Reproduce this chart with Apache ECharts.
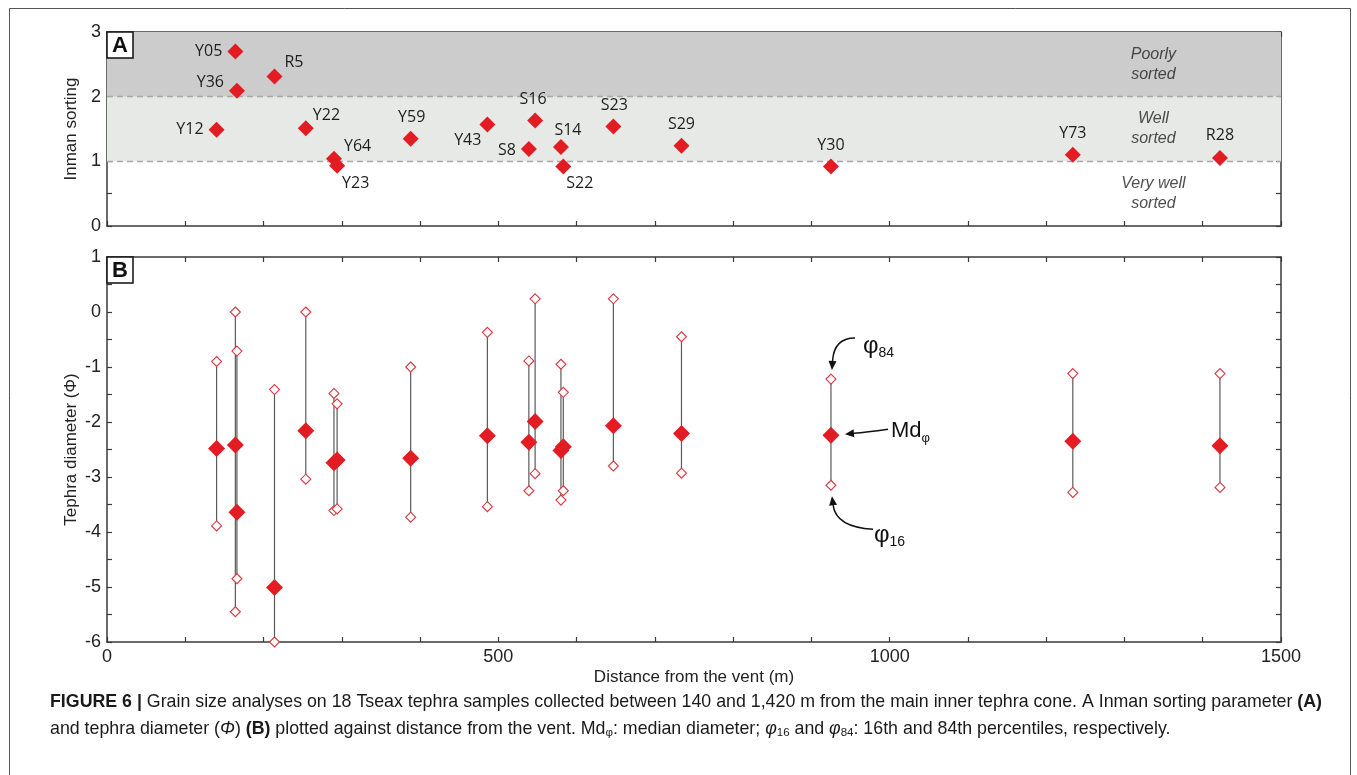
<!DOCTYPE html>
<html><head><meta charset="utf-8">
<script src="https://cdn.jsdelivr.net/npm/echarts@6/dist/echarts.min.js"></script>
<style>html,body{margin:0;padding:0;background:#fff}#c{width:1357px;height:775px}</style>
</head><body><div id="c"></div>
<script>
// ---------------- data ----------------
const samples      = ['Y12','Y05','Y36','R5','Y22','Y64','Y23','Y59','Y43','S8','S16','S14','S22','S23','S29','Y30','Y73','R28'];
const distance     = [140,164,166,214,254,290,294,388,486,539,547,580,583,647,734,925,1234,1422];
const inmanSorting = [1.49,2.70,2.09,2.31,1.51,1.04,0.93,1.35,1.57,1.19,1.63,1.22,0.92,1.54,1.24,0.92,1.10,1.05];
const mdPhi        = [-2.48,-2.42,-3.64,-5.01,-2.16,-2.74,-2.69,-2.66,-2.25,-2.37,-1.99,-2.52,-2.45,-2.07,-2.21,-2.24,-2.35,-2.43];
const phi84        = [-0.90,0.00,-0.71,-1.41,0.00,-1.48,-1.67,-1.00,-0.37,-0.89,0.24,-0.95,-1.46,0.24,-0.45,-1.22,-1.12,-1.12];
const phi16        = [-3.89,-5.45,-4.85,-6.00,-3.04,-3.61,-3.58,-3.73,-3.54,-3.25,-2.94,-3.42,-3.25,-2.80,-2.93,-3.15,-3.28,-3.19];
const sortingClassEdges = [0,1,2,3];
const sortingClassNames = ['Very well\nsorted','Well\nsorted','Poorly\nsorted'];
const sortingClassLabelX = 1337;
const xTickLabels = [0,500,1000,1500];
const yTickLabelsA = [0,1,2,3];
const yTickLabelsB = [-6,-5,-4,-3,-2,-1,0,1];
const annotatedSample = 'Y30';

// ---------------- styles (label placement per sample) ----------------
const labelPlace = {
  Y05:{position:'left',offset:[0,0]}, R5:{position:'right',offset:[-3,-14]},
  Y36:{position:'left',offset:[0,-8]}, Y12:{position:'left',offset:[0,0]},
  Y22:{position:'right',offset:[-6,-13]}, Y64:{position:'right',offset:[-3,-12]},
  Y23:{position:'right',offset:[-8,18]}, Y59:{position:'top',offset:[1,0]},
  Y43:{position:'left',offset:[7,16]}, S8:{position:'left',offset:[0,1]},
  S16:{position:'top',offset:[-2,0]}, S14:{position:'top',offset:[7,4]},
  S22:{position:'right',offset:[-10,17]}, S23:{position:'top',offset:[1,0]},
  S29:{position:'top',offset:[0,0]}, Y30:{position:'top',offset:[0,0]},
  Y73:{position:'top',offset:[0,0]}, R28:{position:'top',offset:[0,-2]}
};
const RED = '#e31b23';
const AX = '#3a3a3a';
const TICKFONT = {fontSize:18, color:'#222', fontFamily:'Liberation Sans, Arial, sans-serif'};
const NAMEFONT = {fontSize:17, color:'#222', fontFamily:'Liberation Sans, Arial, sans-serif'};

function xAx(grid, pos, showLabels, name){
  return {type:'value', gridIndex:grid, position:pos, min:0, max:1500, interval:100,
    axisLine:{show:true, onZero:false, lineStyle:{color:AX, width:1.5}},
    axisTick:{show:true, inside:true, length:5, lineStyle:{color:AX, width:1.2}},
    axisLabel:Object.assign({show:showLabels, margin:6, showMinLabel:true, showMaxLabel:true,
      formatter:v=> xTickLabels.includes(v) ? String(v) : ''}, TICKFONT),
    splitLine:{show:false},
    name:name||'', nameLocation:'middle', nameGap:27, nameMoveOverlap:false, nameTextStyle:NAMEFONT};
}
function yAx(grid, pos, min, max, labels, showLabels, name){
  return {type:'value', gridIndex:grid, position:pos, min:min, max:max, interval:0.5,
    axisLine:{show:true, onZero:false, lineStyle:{color:AX, width:1.5}},
    axisTick:{show:true, inside:true, length:5, lineStyle:{color:AX, width:1.2}},
    axisLabel:Object.assign({show:showLabels, margin:6, showMinLabel:true, showMaxLabel:true,
      formatter:v=> labels.includes(v) ? String(v) : ''}, TICKFONT),
    splitLine:{show:false},
    name:name||'', nameLocation:'middle', nameGap:27, nameMoveOverlap:false, nameTextStyle:NAMEFONT};
}

const sortingPoints = samples.map((s,i)=>({
  value:[distance[i], inmanSorting[i]], name:s,
  label:Object.assign({show:true, formatter:s, distance:5, color:'#1e1e1e', fontSize:16,
    fontFamily:'Open Sans, Noto Sans, sans-serif'}, labelPlace[s])
}));

const option = {
  animation:false,
  backgroundColor:'#fff',
  grid:[
    {left:107, right:76, top:32, height:194, outerBoundsMode:'none', containLabel:false},
    {left:107, right:76, top:257, height:385, outerBoundsMode:'none', containLabel:false}
  ],
  xAxis:[
    xAx(0,'bottom',false), xAx(0,'top',false),
    xAx(1,'bottom',true,'Distance from the vent (m)'), xAx(1,'top',false)
  ],
  yAxis:[
    yAx(0,'left',0,3,yTickLabelsA,true,'Inman sorting'), yAx(0,'right',0,3,yTickLabelsA,false),
    yAx(1,'left',-6,1,yTickLabelsB,true,'Tephra diameter (Φ)'), yAx(1,'right',-6,1,yTickLabelsB,false)
  ],
  series:[
    { // sorting class bands
      type:'scatter', xAxisIndex:0, yAxisIndex:0, data:[], z:1, silent:true,
      markArea:{silent:true, data:[
        [{yAxis:sortingClassEdges[2], itemStyle:{color:'#cccccc', opacity:1}},{yAxis:sortingClassEdges[3]}],
        [{yAxis:sortingClassEdges[1], itemStyle:{color:'#e6e9e6', opacity:1}},{yAxis:sortingClassEdges[2]}]
      ]},
      markLine:{silent:true, symbol:'none', label:{show:false},
        lineStyle:{color:'#a8a8a8', type:[6,4], width:1.3, opacity:1},
        data:[{yAxis:sortingClassEdges[1]},{yAxis:sortingClassEdges[2]}]}
    },
    { // sorting class names
      type:'scatter', xAxisIndex:0, yAxisIndex:0, symbolSize:0, z:2, silent:true,
      data:sortingClassNames.map((n,i)=>({value:[sortingClassLabelX,(sortingClassEdges[i]+sortingClassEdges[i+1])/2], name:n})),
      label:{show:true, position:'inside', formatter:p=>p.name, fontStyle:'italic', fontSize:16, lineHeight:20,
        color:'#222', fontFamily:'Liberation Sans, Arial, sans-serif'}
    },
    { // Inman sorting points
      type:'scatter', xAxisIndex:0, yAxisIndex:0, symbol:'diamond', symbolSize:16, z:5,
      itemStyle:{color:RED, opacity:1},
      data:sortingPoints
    },
    { // whiskers phi84 - phi16
      type:'custom', xAxisIndex:2, yAxisIndex:2, z:3,
      data:samples.map((s,i)=>[distance[i], phi84[i], phi16[i]]),
      encode:{x:0, y:[1,2]},
      renderItem:(params, api)=>{
        const a = api.coord([api.value(0), api.value(1)]);
        const b = api.coord([api.value(0), api.value(2)]);
        return {type:'line', shape:{x1:a[0],y1:a[1],x2:b[0],y2:b[1]}, style:{stroke:'#5a5a5a', lineWidth:1.2}};
      }
    },
    { type:'scatter', xAxisIndex:2, yAxisIndex:2, symbol:'diamond', symbolSize:10, z:4,
      itemStyle:{color:'#fff', borderColor:'#d63a40', borderWidth:1.1, opacity:1},
      data:samples.map((s,i)=>[distance[i], phi84[i]]) },
    { type:'scatter', xAxisIndex:2, yAxisIndex:2, symbol:'diamond', symbolSize:10, z:4,
      itemStyle:{color:'#fff', borderColor:'#d63a40', borderWidth:1.1, opacity:1},
      data:samples.map((s,i)=>[distance[i], phi16[i]]) },
    { type:'scatter', xAxisIndex:2, yAxisIndex:2, symbol:'diamond', symbolSize:17, z:5,
      itemStyle:{color:RED, opacity:1},
      data:samples.map((s,i)=>[distance[i], mdPhi[i]]) }
  ]
};

const chart = echarts.init(document.getElementById('c'), null, {renderer:'canvas'});
chart.setOption(option);

// ---------------- annotations ----------------
function arrow(x0,y0,cx,cy,x1,y1){
  const ang = Math.atan2(y1-cy, x1-cx);
  const L=9, W=4;
  const bx = x1 - L*Math.cos(ang), by = y1 - L*Math.sin(ang);
  const px = -Math.sin(ang)*W, py = Math.cos(ang)*W;
  return [
    {type:'bezierCurve', silent:true, z:50, shape:{x1:x0,y1:y0,cpx1:cx,cpy1:cy,x2:bx,y2:by}, style:{stroke:'#111',lineWidth:1.5,fill:null}},
    {type:'polygon', silent:true, z:50, shape:{points:[[x1,y1],[bx+px,by+py],[bx-px,by-py]]}, style:{fill:'#111'}}
  ];
}
const ia = samples.indexOf(annotatedSample);
const pMd  = chart.convertToPixel({xAxisIndex:2, yAxisIndex:2}, [distance[ia], mdPhi[ia]]);
const p84  = chart.convertToPixel({xAxisIndex:2, yAxisIndex:2}, [distance[ia], phi84[ia]]);
const p16  = chart.convertToPixel({xAxisIndex:2, yAxisIndex:2}, [distance[ia], phi16[ia]]);
const cA   = chart.convertToPixel({xAxisIndex:0, yAxisIndex:0}, [0, 3]);
const cB   = chart.convertToPixel({xAxisIndex:2, yAxisIndex:2}, [0, 1]);

const sym = {a:{fontSize:24, fontFamily:'Liberation Sans, Arial, sans-serif', fill:'#111', lineHeight:28},
             s:{fontSize:14, fontFamily:'Liberation Sans, Arial, sans-serif', fill:'#111', verticalAlign:'bottom', lineHeight:28}};
const capFont = 'Liberation Sans, Arial, sans-serif';
const CAPSZ = 17.8;
const capRich = {
  b:{fontWeight:'bold', fontSize:CAPSZ, fontFamily:capFont, fill:'#1a1a1a'},
  i:{fontStyle:'italic', fontSize:CAPSZ, fontFamily:capFont, fill:'#1a1a1a'},
  sub:{fontSize:11.5, fontFamily:capFont, fill:'#1a1a1a', verticalAlign:'bottom', lineHeight:20}
};

const graphics = [
  {type:'rect', silent:true, z:0, shape:{x:9.5,y:8.5,width:1341,height:900}, style:{fill:null, stroke:'#555', lineWidth:1}},
  {type:'rect', silent:true, z:60, shape:{x:cA[0],y:cA[1],width:26,height:26}, style:{fill:'#fff', stroke:'#111', lineWidth:1.5}},
  {type:'text', silent:true, z:61, x:cA[0]+13, y:cA[1]+14, style:{text:'A', fontSize:22, fontWeight:'bold', fontFamily:'Liberation Sans, Arial, sans-serif', fill:'#111', align:'center', verticalAlign:'middle'}},
  {type:'rect', silent:true, z:60, shape:{x:cB[0],y:cB[1],width:26,height:26}, style:{fill:'#fff', stroke:'#111', lineWidth:1.5}},
  {type:'text', silent:true, z:61, x:cB[0]+13, y:cB[1]+14, style:{text:'B', fontSize:22, fontWeight:'bold', fontFamily:'Liberation Sans, Arial, sans-serif', fill:'#111', align:'center', verticalAlign:'middle'}},
  ...arrow(p84[0]+24, p84[1]-41, p84[0]+3, p84[1]-41, p84[0]+1, p84[1]-9),
  {type:'text', silent:true, z:50, x:p84[0]+32, y:p84[1]-33, style:{text:'{a|φ}{s|84}', rich:sym, verticalAlign:'middle'}},
  ...arrow(pMd[0]+57, pMd[1]-6, pMd[0]+35, pMd[1]-3, pMd[0]+14, pMd[1]-1),
  {type:'text', silent:true, z:50, x:pMd[0]+60, y:pMd[1]-4, style:{text:'{a|Md}{s|φ}', rich:{a:{fontSize:22, fontFamily:'Liberation Sans, Arial, sans-serif', fill:'#111', lineHeight:28}, s:{fontSize:13, fontFamily:'Liberation Sans, Arial, sans-serif', fill:'#111', verticalAlign:'bottom', lineHeight:28}}, verticalAlign:'middle'}},
  ...arrow(p16[0]+42, p16[1]+44, p16[0]+5, p16[1]+42, p16[0]+1, p16[1]+11),
  {type:'text', silent:true, z:50, x:p16[0]+43, y:p16[1]+50, style:{text:'{a|φ}{s|16}', rich:sym, verticalAlign:'middle'}},
  {type:'text', silent:true, z:50, x:50, y:702, style:{
    text:'{b|FIGURE 6 | }Grain size analyses on 18 Tseax tephra samples collected between 140 and 1,420 m from the main inner tephra cone. A Inman sorting parameter {b|(A)}',
    rich:capRich, fontSize:CAPSZ, fontFamily:capFont, fill:'#1a1a1a', verticalAlign:'middle'}},
  {type:'text', silent:true, z:50, x:50, y:729, style:{
    text:'and tephra diameter ({i|Φ}) {b|(B)} plotted against distance from the vent. Md{sub|φ}: median diameter; {i|φ}{sub|16} and {i|φ}{sub|84}: 16th and 84th percentiles, respectively.',
    rich:capRich, fontSize:CAPSZ, fontFamily:capFont, fill:'#1a1a1a', verticalAlign:'middle'}}
];
chart.setOption({graphic:graphics});
</script></body></html>
